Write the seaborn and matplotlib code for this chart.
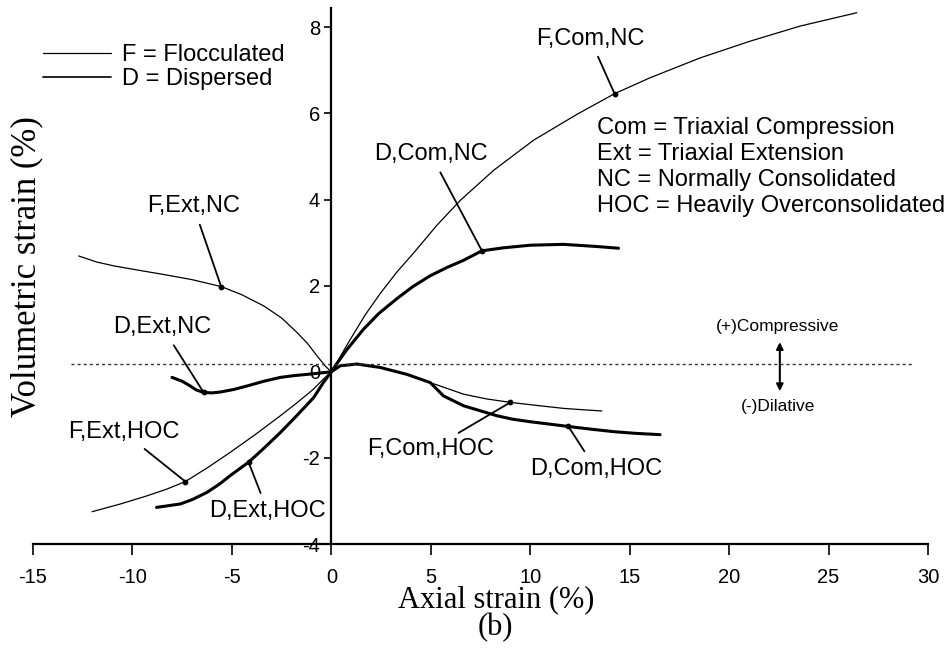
import numpy as np
import pandas as pd
import seaborn as sns
import matplotlib.pyplot as plt
from matplotlib.lines import Line2D

# %% Data (axial strain %, volumetric strain %)

# F = flocculated (thin lines), D = dispersed (bold lines)
f_com_nc_x = [0, 0.95, 1.7, 2.46, 3.3, 4.14, 5.3, 6.48, 8.16, 10.17, 12.35, 14.24, 16.03, 18.54, 21.06, 23.57, 26.42]
f_com_nc_y = [0, 0.75, 1.32, 1.82, 2.32, 2.76, 3.40, 3.98, 4.68, 5.38, 5.98, 6.46, 6.83, 7.29, 7.68, 8.03, 8.34]

d_com_nc_x = [0, 0.4, 0.79, 1.62, 2.4, 3.30, 4.1, 4.97, 5.8, 6.65, 7.57, 8.66, 10.0, 11.67, 13.35, 14.44]
d_com_nc_y = [0, 0.27, 0.52, 0.99, 1.36, 1.70, 1.98, 2.23, 2.42, 2.59, 2.81, 2.88, 2.94, 2.96, 2.91, 2.87]

f_com_hoc_x = [0, 0.45, 1.29, 2.46, 3.80, 4.97, 6.65, 7.8, 9.0, 10.3, 11.67, 12.6, 13.6]
f_com_hoc_y = [0, 0.14, 0.18, 0.10, -0.06, -0.25, -0.52, -0.63, -0.71, -0.78, -0.85, -0.88, -0.91]

d_com_hoc_x = [0, 0.45, 1.29, 2.46, 3.80, 4.97, 5.64, 6.65, 8.32, 9.1, 10.0, 11.92, 13.0, 14.18, 15.3, 16.53]
d_com_hoc_y = [0, 0.14, 0.18, 0.10, -0.06, -0.25, -0.56, -0.79, -1.02, -1.10, -1.16, -1.27, -1.33, -1.39, -1.43, -1.46]

f_ext_nc_x = [-12.70, -11.8, -10.94, -9.7, -8.43, -7.0, -5.54, -4.5, -3.40, -2.5, -1.72, -1.2, -0.72, -0.3, 0]
f_ext_nc_y = [2.69, 2.55, 2.46, 2.36, 2.26, 2.14, 1.98, 1.79, 1.53, 1.25, 0.91, 0.66, 0.37, 0.13, 0]

d_ext_nc_x = [-8.01, -7.5, -7.09, -6.8, -6.42, -6.0, -5.58, -4.9, -4.24, -3.4, -2.56, -1.9, -1.22, -0.6, 0]
d_ext_nc_y = [-0.13, -0.22, -0.33, -0.42, -0.48, -0.49, -0.47, -0.41, -0.33, -0.22, -0.13, -0.09, -0.06, -0.03, 0]

f_ext_hoc_x = [-12.03, -10.6, -9.26, -8.3, -7.34, -6.2, -5.08, -3.8, -2.56, -1.7, -0.89, -0.4, 0]
f_ext_hoc_y = [-3.25, -3.07, -2.88, -2.73, -2.55, -2.22, -1.87, -1.45, -1.02, -0.71, -0.40, -0.17, 0]

d_ext_hoc_x = [-8.79, -7.59, -7.0, -6.25, -5.6, -5.08, -4.16, -3.4, -2.56, -1.7, -0.89, -0.4, 0]
d_ext_hoc_y = [-3.15, -3.07, -2.97, -2.80, -2.60, -2.41, -2.10, -1.78, -1.41, -1.00, -0.60, -0.25, 0]

curves = [
    (f_com_nc_x, f_com_nc_y, "F"), (d_com_nc_x, d_com_nc_y, "D"),
    (f_com_hoc_x, f_com_hoc_y, "F"), (d_com_hoc_x, d_com_hoc_y, "D"),
    (f_ext_nc_x, f_ext_nc_y, "F"), (d_ext_nc_x, d_ext_nc_y, "D"),
    (f_ext_hoc_x, f_ext_hoc_y, "F"), (d_ext_hoc_x, d_ext_hoc_y, "D"),
]

# curve labels: text, point on the curve, text position
label_names = ["F,Com,NC", "D,Com,NC", "F,Ext,NC", "D,Ext,NC",
               "F,Ext,HOC", "D,Ext,HOC", "F,Com,HOC", "D,Com,HOC"]
label_pt_x = [14.24, 7.57, -5.54, -6.42, -7.34, -4.16, 9.0, 11.92]
label_pt_y = [6.46, 2.81, 1.98, -0.48, -2.55, -2.10, -0.71, -1.27]
label_txt_x = [13.0, 5.0, -6.93, -8.49, -10.45, -3.2, 5.0, 13.3]
label_txt_y = [7.74, 5.05, 3.84, 1.03, -1.40, -3.24, -1.80, -2.26]

zero_line_y = 0.18
zero_line_x = [-13.1, 29.25]

# %% Plot

sns.set_style("ticks")
plt.rcParams['font.family'] = ['Liberation Sans', 'DejaVu Sans']
plt.rcParams['axes.unicode_minus'] = False
for key in ['text.color', 'axes.labelcolor', 'xtick.color', 'ytick.color', 'axes.edgecolor']:
    plt.rcParams[key] = 'black'

fig = plt.figure(figsize=(9.52, 6.53), dpi=100)
ax = fig.add_axes([33 / 952, 1 - 544 / 653, 895 / 952, 536 / 653])

widths = {"F": 0.9, "D": 2.2}
for xs, ys, kind in curves:
    df = pd.DataFrame({"x": xs, "y": ys})
    sns.lineplot(data=df, x="x", y="y", ax=ax, color="black", lw=widths[kind],
                 estimator=None, sort=False, solid_capstyle="round",
                 solid_joinstyle="round")

# dotted reference line
ax.plot(zero_line_x, [zero_line_y, zero_line_y], color="#333333", lw=1.0,
        linestyle=(0, (2.2, 2.2)))

# pointers and labels
for name, px, py, tx, ty in zip(label_names, label_pt_x, label_pt_y, label_txt_x, label_txt_y):
    ax.annotate(name, xy=(px, py), xytext=(tx, ty), ha="center", va="center",
                fontsize=17, arrowprops=dict(arrowstyle="-", lw=1.3, color="black",
                                             shrinkA=3, shrinkB=0))
ax.scatter(label_pt_x, label_pt_y, s=10, color="black", zorder=5)

# compressive / dilative marker
ax.annotate("", xy=(22.55, 0.69), xytext=(22.55, -0.45),
            arrowprops=dict(arrowstyle="<|-|>", lw=1.5, color="black",
                            mutation_scale=10, shrinkA=0, shrinkB=0))
ax.text(22.45, 1.06, "(+)Compressive", ha="center", va="center", fontsize=12.5)
ax.text(22.45, -0.80, "(-)Dilative", ha="center", va="center", fontsize=12.5)

ax.text(13.37, 4.76, "Com = Triaxial Compression\nExt = Triaxial Extension\n"
        "NC = Normally Consolidated\nHOC = Heavily Overconsolidated",
        ha="left", va="center", fontsize=17, linespacing=1.24)

# legend for line weights
handles = [Line2D([], [], color="black", lw=0.9), Line2D([], [], color="black", lw=1.2)]
fig.legend(handles, ["F = Flocculated", "D = Dispersed"], loc="upper left",
           bbox_to_anchor=(43 / 952, 1 - 44 / 653), frameon=False, fontsize=17,
           handlelength=2.9, handletextpad=0.45, labelspacing=0.1,
           borderpad=0, borderaxespad=0)

# axes
ax.set_xlim(-15, 30)
ax.set_ylim(-4, 8.45)
ax.set_xticks(np.arange(-15, 31, 5))
ax.set_yticks(np.arange(-4, 9, 2))
ax.spines["left"].set_position(("data", 0))
ax.spines["left"].set_linewidth(1.6)
ax.spines["bottom"].set_linewidth(1.6)
ax.spines["top"].set_visible(False)
ax.spines["right"].set_visible(False)
ax.tick_params(axis="x", direction="out", length=8, width=1.2, labelsize=14.5, pad=9)
ax.tick_params(axis="y", direction="out", length=5, width=1.2, labelsize=14.5, pad=3)

serif = ["Liberation Serif", "DejaVu Serif"]
ax.set_xlabel("")
ax.set_ylabel("")
ax.text(0.517, -0.104, "Axial strain (%)", transform=ax.transAxes, ha="center",
        va="center", fontsize=22, family=serif)
ax.text(0.517, -0.156, "(b)", transform=ax.transAxes, ha="center",
        va="center", fontsize=22, family=serif)
ax.text(-0.007, 0.517, "Volumetric strain (%)", transform=ax.transAxes, ha="center",
        va="center", rotation=90, fontsize=25, family=serif)

fig.savefig("out.png", dpi=100)
